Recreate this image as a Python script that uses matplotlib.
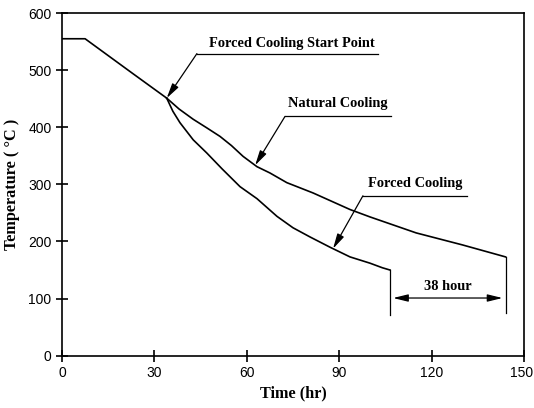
import numpy as np
import matplotlib.pyplot as plt
from matplotlib.transforms import ScaledTranslation

# cooling curves, time in hr, temperature in deg C
t_common = [0, 7.5, 23, 34]
T_common = [555, 555, 494, 451]

t_natural = [34, 38, 42.6, 47, 51.3, 55, 58.8, 63.3, 67.5, 73, 81.5, 93.5,
             100, 115, 130, 144]
T_natural = [451, 432, 414, 399, 384, 368, 349, 331, 320, 303, 285, 256,
             243, 215, 194, 173]

t_forced = [34, 36, 38.3, 42.6, 47, 52, 57.8, 63.3, 69.8, 75, 80.5, 87,
            93.5, 100, 104, 106.5]
T_forced = [451, 428, 408, 378, 355, 327, 296, 275, 244, 224, 208, 190,
            173, 162, 154, 150]

serif = 'Liberation Serif'
sans = 'Liberation Sans'

fig = plt.figure(figsize=(5.34, 4.08), dpi=100)
ax = fig.add_axes([0.1161, 0.1282, 0.8652, 0.8398])

ax.plot(t_common, T_common, color='black', lw=1.2)
ax.plot(t_natural, T_natural, color='black', lw=1.2)
ax.plot(t_forced, T_forced, color='black', lw=1.2)

ax.set_xlim(0, 150)
ax.set_ylim(0, 600)
ax.set_xticks(range(0, 151, 30))
ax.set_yticks(range(0, 601, 100))
ax.tick_params(direction='inout', length=8, width=1.2, labelsize=10)
for lab in ax.get_xticklabels() + ax.get_yticklabels():
    lab.set_family(sans)
# keep the last x label inside the figure
last = ax.get_xticklabels()[-1]
last.set_transform(last.get_transform() + ScaledTranslation(-2 / 72, 0, fig.dpi_scale_trans))
for s in ax.spines.values():
    s.set_linewidth(1.2)

ax.set_xlabel('Time (hr)', family=serif, fontweight='bold', fontsize=11.7, labelpad=4)
ax.set_ylabel('Temperature ( °C )', family=serif, fontweight='bold', fontsize=11.7, labelpad=6)

head = '-|>,head_length=0.9,head_width=0.22'
fs = 10.4


def callout(text, tx, ty, x0, x1, uy, tip):
    ax.text(tx, ty, text, family=serif, fontweight='bold', fontsize=fs,
            ha='center', va='center')
    ax.plot([x0, x1], [uy, uy], color='black', lw=0.9)
    ax.annotate('', xy=tip, xytext=(x0, uy),
                arrowprops=dict(arrowstyle=head, color='black', lw=0.9,
                                shrinkA=0, shrinkB=0))


callout('Forced Cooling Start Point', 74.7, 546, 43.8, 102.6, 529,
        (t_forced[0], T_forced[0]))
t_nat = 62.7
callout('Natural Cooling', 89.6, 442, 72.4, 106.8, 419,
        (t_nat, np.interp(t_nat, t_natural, T_natural)))
t_frc = 88
callout('Forced Cooling', 114.6, 302, 97.7, 131.5, 280,
        (t_frc, np.interp(t_frc, t_forced, T_forced)))

# time saved by forced cooling
t_end_f = t_forced[-1]
t_end_n = t_natural[-1]
ax.plot([t_end_f, t_end_f], [T_forced[-1], 71], color='black', lw=0.9)
ax.plot([t_end_n, t_end_n], [T_natural[-1], 74], color='black', lw=0.9)
ax.annotate('', xy=(t_end_f + 1, 101), xytext=(t_end_n - 1, 101),
            arrowprops=dict(arrowstyle='<|-|>,head_length=0.9,head_width=0.22',
                            color='black', lw=0.9, shrinkA=0, shrinkB=0))
ax.text((t_end_f + t_end_n) / 2, 121, '%d hour' % round(t_end_n - t_end_f),
        family=serif, fontweight='bold', fontsize=fs, ha='center', va='center')

fig.savefig('out.png', dpi=100)
